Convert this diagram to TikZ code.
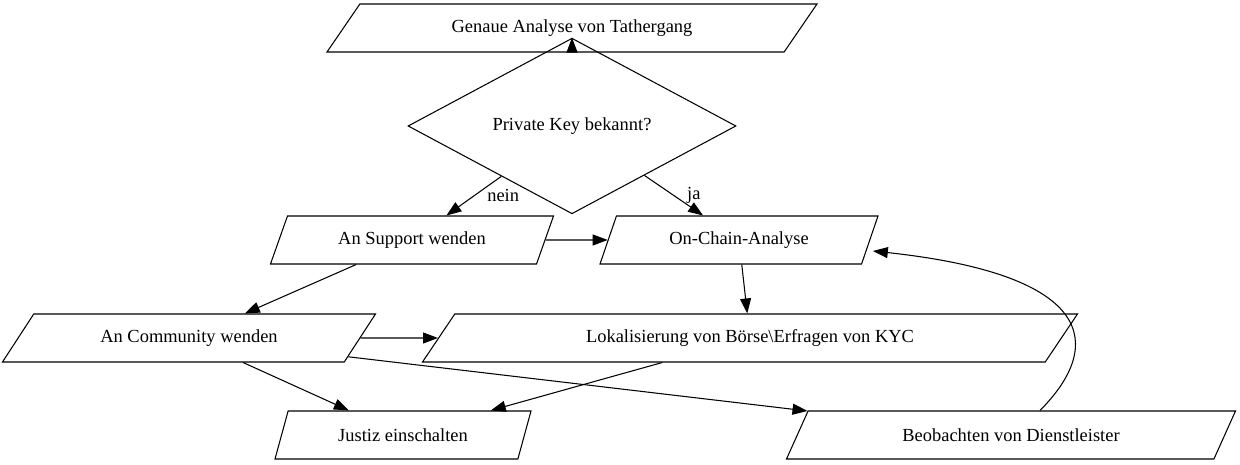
\documentclass[tikz,border=0pt]{standalone}
\usepackage{fontspec}
\setmainfont{Liberation Serif}
\usetikzlibrary{arrows.meta,positioning,shapes.geometric,calc}
\tikzset{
    line/.style  = {-{Triangle[length=3mm,width=2.2mm]}, line width=0.6pt, draw=black},
    io/.style    = {trapezium, draw=black, line width=0.6pt,
            trapezium left angle=#1, trapezium right angle=180-#1,
            trapezium stretches body, minimum height=0.96cm, inner sep=1pt,
            font=\fontsize{10.5}{12}\selectfont},
    decision/.style = {diamond, draw=black, line width=0.6pt, inner sep=0pt,
            minimum width=6.56cm, minimum height=0.94cm,
            font=\fontsize{10.5}{12}\selectfont},
}
\begin{document}
\begin{tikzpicture}
    \useasboundingbox (0,0) rectangle (24.8,9.3);
    % Nodes
    \node[io=31.7, minimum width=9.8cm] (analyse) at (11.44,8.74) {Genaue Analyse von Tathergang};
    \node[decision] (key) at (11.44,6.78) {Private Key bekannt?};
    \node[io=50, minimum width=5.66cm] (support) at (8.24,4.5) {An Support wenden};
    \node[io=51, minimum width=5.56cm] (chain) at (14.78,4.5) {On-Chain-Analyse};
    \node[io=33, minimum width=7.46cm] (community) at (3.78,2.54) {An Community wenden};
    \node[io=32.4, minimum width=13.1cm] (boerse) at (15.0,2.54) {Lokalisierung von Börse\textbackslash Erfragen von KYC};
    \node[io=51.5, minimum width=5.12cm] (justiz) at (8.06,0.6) {Justiz einschalten};
    \node[io=37.4, minimum width=8.98cm] (dienst) at (20.22,0.6) {Beobachten von Dienstleister};
    % Arrows
    \draw[line] (analyse) -- (key);
    \draw[line] (key) -- node[midway,right=4pt,font=\fontsize{10.5}{12}\selectfont]{nein} (support);
    \draw[line] (key) -- node[midway,right=4pt,font=\fontsize{10.5}{12}\selectfont]{ja} (chain);
    \draw[line] (support) -- (chain);
    \draw[line] (support) -- (community);
    \draw[line] (chain) -- (boerse);
    \draw[line] (community) -- (boerse);
    \draw[line] (community) -- (justiz);
    \draw[line] (community) -- (dienst);
    \draw[line] (boerse) -- (justiz);
    \draw[line] ($(dienst.north)+(0.58,0)$) .. controls (22.1,2.4) and (21.9,3.8) .. ($(chain.east)+(0.05,-0.22)$);
\end{tikzpicture}
\end{document}
